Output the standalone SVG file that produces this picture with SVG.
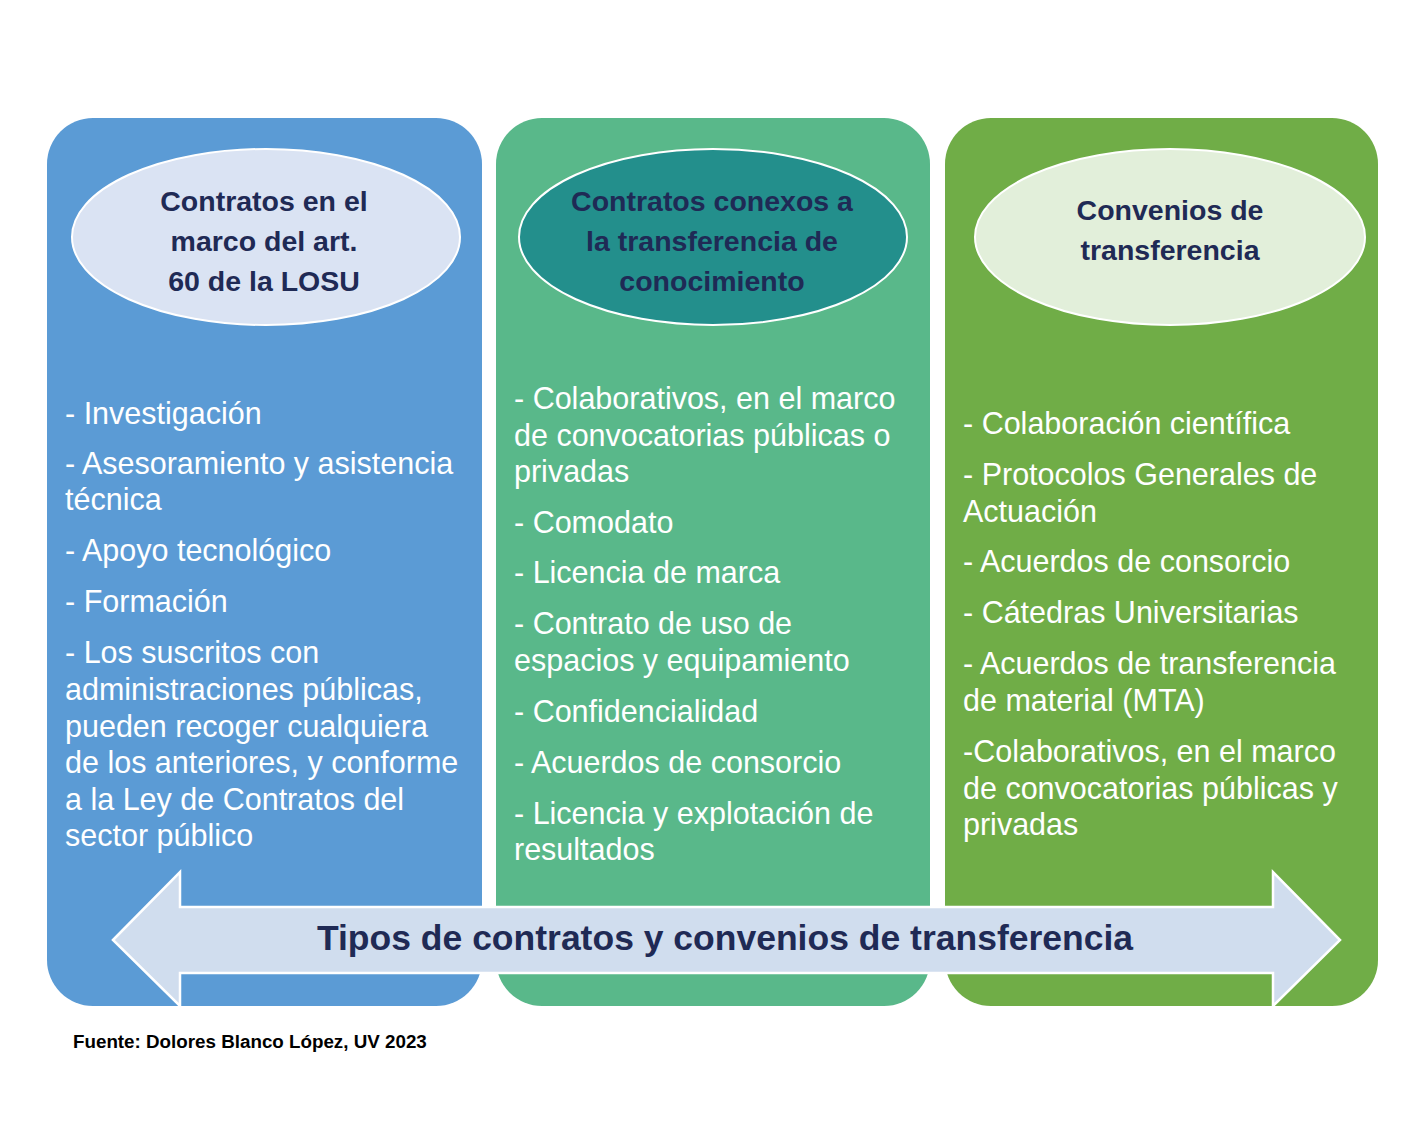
<svg xmlns="http://www.w3.org/2000/svg" width="1426" height="1125" viewBox="0 0 1426 1125">
<style>
.panel{stroke:none}
.ell{stroke:#ffffff;stroke-width:2}
.head{font-family:"Liberation Sans",Arial,sans-serif;font-weight:bold;font-size:28.5px;fill:#1F2A55;text-anchor:middle}
.body{font-family:"Liberation Sans",Arial,sans-serif;font-size:30.5px;fill:#ffffff}
.title{font-family:"Liberation Sans",Arial,sans-serif;font-weight:bold;font-size:35.5px;fill:#1F2A55;text-anchor:middle}
.foot{font-family:"Liberation Sans",Arial,sans-serif;font-weight:bold;font-size:18.8px;fill:#000000}
</style>
<rect width="1426" height="1125" fill="#ffffff"/>
<g id="panel1">
<rect class="panel" x="47" y="118" width="435" height="888" rx="46" fill="#5B9BD5"/>
<ellipse class="ell" cx="266" cy="237" rx="194" ry="88" fill="#DAE3F3"/>
<text class="head"><tspan x="264" y="211">Contratos en el</tspan><tspan x="264" y="251">marco del art.</tspan><tspan x="264" y="291">60 de la LOSU</tspan></text>
<text class="body"><tspan x="65" y="424">- Investigación</tspan><tspan x="65" y="474">- Asesoramiento y asistencia</tspan><tspan x="65" y="510">técnica</tspan><tspan x="65" y="561">- Apoyo tecnológico</tspan><tspan x="65" y="612">- Formación</tspan><tspan x="65" y="663">- Los suscritos con</tspan><tspan x="65" y="700">administraciones públicas,</tspan><tspan x="65" y="737">pueden recoger cualquiera</tspan><tspan x="65" y="773">de los anteriores, y conforme</tspan><tspan x="65" y="810">a la Ley de Contratos del</tspan><tspan x="65" y="846">sector público</tspan></text>
</g>
<g id="panel2">
<rect class="panel" x="496" y="118" width="434" height="888" rx="46" fill="#59B88A"/>
<ellipse class="ell" cx="713" cy="237" rx="194" ry="88" fill="#238F8C"/>
<text class="head"><tspan x="712" y="211">Contratos conexos a</tspan><tspan x="712" y="251">la transferencia de</tspan><tspan x="712" y="291">conocimiento</tspan></text>
<text class="body"><tspan x="514" y="409">- Colaborativos, en el marco</tspan><tspan x="514" y="446">de convocatorias públicas o</tspan><tspan x="514" y="482">privadas</tspan><tspan x="514" y="533">- Comodato</tspan><tspan x="514" y="583">- Licencia de marca</tspan><tspan x="514" y="634">- Contrato de uso de</tspan><tspan x="514" y="671">espacios y equipamiento</tspan><tspan x="514" y="722">- Confidencialidad</tspan><tspan x="514" y="773">- Acuerdos de consorcio</tspan><tspan x="514" y="824">- Licencia y explotación de</tspan><tspan x="514" y="860">resultados</tspan></text>
</g>
<g id="panel3">
<rect class="panel" x="945" y="118" width="433" height="888" rx="46" fill="#70AD47"/>
<ellipse class="ell" cx="1170" cy="237" rx="195" ry="88" fill="#E2EFDA"/>
<text class="head"><tspan x="1170" y="220">Convenios de</tspan><tspan x="1170" y="260">transferencia</tspan></text>
<text class="body"><tspan x="963" y="434">- Colaboración científica</tspan><tspan x="963" y="485">- Protocolos Generales de</tspan><tspan x="963" y="522">Actuación</tspan><tspan x="963" y="572">- Acuerdos de consorcio</tspan><tspan x="963" y="623">- Cátedras Universitarias</tspan><tspan x="963" y="674">- Acuerdos de transferencia</tspan><tspan x="963" y="711">de material (MTA)</tspan><tspan x="963" y="762">-Colaborativos, en el marco</tspan><tspan x="963" y="799">de convocatorias públicas y</tspan><tspan x="963" y="835">privadas</tspan></text>
</g>
<g id="connectors">
<g id="arrow">
<polygon points="113,940 180,872 180,907 1273,907 1273,872 1340,940 1273,1006 1273,973 180,973 180,1006" fill="#D0DDEE" stroke="#ffffff" stroke-width="2.5" stroke-linejoin="miter"/>
<text class="title" x="725" y="950">Tipos de contratos y convenios de transferencia</text>
</g>
</g>
<text class="foot" x="73" y="1048">Fuente: Dolores Blanco López, UV 2023</text>
</svg>
